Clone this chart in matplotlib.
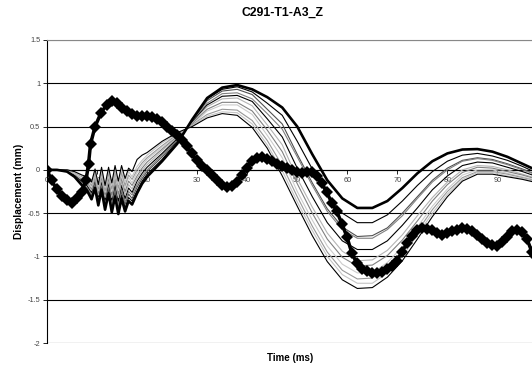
import matplotlib
matplotlib.use("Agg")
import matplotlib.pyplot as plt

plt.rcParams['font.family'] = ['Liberation Sans', 'DejaVu Sans']

# Shared time base (ms) for the thin sensor traces
t_lines = [0, 2, 4, 5.5, 7, 8, 8.9, 9.6, 10.25, 10.9, 11.6, 12.3, 12.95, 13.6, 14.25,
           14.9, 15.6, 16.3, 17, 18, 19, 20, 23, 26, 29, 32, 35, 38, 41, 44, 47, 50,
           53, 56, 59, 62, 65, 68, 71, 74, 77, 80, 83, 86, 89, 92, 95, 98]

# Displacement traces (mm)
trace_a = [0, 0, -.02, -.08, -.18, -.24, -.34, -.21, -.41, -.23, -.46, -.27, -.49, -.31, -.51,
           -.33, -.48, -.36, -.40, -.27, -.16, -.08, .10, .30, .58, .83, .95, .98, .93, .84, .72, .50,
           .18, -.12, -.33, -.44, -.44, -.36, -.21, -.04, .10, .19, .235, .24, .21, .15, .07, -.01]
trace_b = [0, 0, -.02, -.07, -.17, -.22, -.32, -.19, -.39, -.20, -.43, -.24, -.46, -.27, -.47,
           -.29, -.44, -.32, -.36, -.24, -.13, -.05, .12, .33, .57, .82, .93, .96, .90, .77, .63, .33,
           .01, -.29, -.50, -.61, -.61, -.52, -.36, -.18, -.02, .10, .17, .19, .16, .11, .04, -.04]
trace_c = [0, 0, -.02, -.07, -.16, -.21, -.30, -.17, -.36, -.18, -.40, -.21, -.42, -.24, -.43,
           -.25, -.40, -.28, -.33, -.20, -.10, -.02, .15, .34, .56, .80, .91, .93, .87, .70, .53, .18,
           -.15, -.45, -.66, -.77, -.76, -.67, -.50, -.31, -.12, .02, .11, .14, .12, .07, .01, -.06]
trace_d = [0, 0, -.01, -.06, -.14, -.19, -.28, -.14, -.34, -.15, -.38, -.18, -.39, -.20, -.40,
           -.22, -.37, -.25, -.29, -.17, -.07, .00, .17, .35, .56, .77, .88, .89, .82, .65, .47, .15,
           -.18, -.48, -.69, -.79, -.79, -.69, -.53, -.33, -.14, .00, .10, .13, .11, .06, .00, -.06]
trace_e = [0, 0, -.01, -.06, -.13, -.18, -.26, -.12, -.31, -.13, -.35, -.15, -.35, -.17, -.36,
           -.18, -.33, -.21, -.26, -.13, -.04, .03, .19, .36, .55, .75, .85, .86, .79, .59, .38, .02,
           -.31, -.61, -.82, -.92, -.92, -.82, -.64, -.44, -.23, -.07, .05, .09, .08, .03, -.02, -.08]
trace_f = [0, 0, -.01, -.05, -.12, -.16, -.24, -.10, -.29, -.10, -.32, -.12, -.32, -.13, -.32,
           -.14, -.29, -.17, -.22, -.10, -.01, .06, .22, .38, .54, .73, .82, .83, .74, .52, .29, -.10,
           -.43, -.73, -.94, -1.05, -1.04, -.93, -.75, -.53, -.32, -.14, .00, .05, .04, .00, -.05, -.10]
trace_g = [0, 0, -.01, -.04, -.11, -.14, -.22, -.08, -.27, -.07, -.29, -.09, -.29, -.09, -.28,
           -.10, -.25, -.13, -.18, -.07, .02, .09, .24, .39, .53, .70, .78, .78, .68, .46, .21, -.16,
           -.50, -.80, -1.01, -1.11, -1.10, -.99, -.81, -.59, -.36, -.17, -.03, .03, .02, -.02, -.06, -.11]
trace_h = [0, 0, -.01, -.04, -.10, -.13, -.20, -.06, -.24, -.05, -.26, -.06, -.25, -.06, -.24,
           -.06, -.21, -.09, -.15, -.03, .05, .12, .26, .40, .52, .68, .75, .75, .64, .40, .14, -.25,
           -.58, -.88, -1.09, -1.19, -1.19, -1.07, -.89, -.66, -.42, -.22, -.06, .00, .00, -.04, -.08, -.12]
trace_i = [0, 0, .00, -.03, -.08, -.11, -.18, -.03, -.22, -.02, -.24, -.03, -.22, -.02, -.21,
           -.03, -.18, -.06, -.11, .00, .08, .14, .28, .41, .52, .64, .70, .69, .57, .34, .05, -.31,
           -.65, -.95, -1.16, -1.26, -1.25, -1.13, -.95, -.71, -.46, -.25, -.09, -.02, -.02, -.05, -.09, -.13]
trace_j = [0, 0, .00, -.03, -.07, -.10, -.16, -.01, -.19, .00, -.21, .00, -.18, .01, -.17,
           .01, -.14, -.02, -.08, .04, .11, .17, .31, .42, .51, .62, .67, .66, .53, .29, -.01, -.37,
           -.70, -1.00, -1.21, -1.31, -1.31, -1.19, -1.00, -.75, -.50, -.28, -.11, -.03, -.03, -.07, -.10, -.14]
trace_k = [0, 0, .00, -.02, -.06, -.08, -.14, .01, -.17, .03, -.18, .03, -.15, .05, -.13,
           .05, -.10, .02, -.02, .12, .17, .20, .33, .43, .50, .60, .65, .63, .49, .25, -.07, -.42,
           -.76, -1.06, -1.27, -1.37, -1.36, -1.24, -1.05, -.80, -.54, -.31, -.13, -.05, -.05, -.08, -.11, -.15]

# Diamond-marked reference trace
t_ref = [0, 0.9, 1.9, 3.0, 3.9, 4.9, 5.9, 6.9, 7.8, 8.3, 8.7, 9.6, 10.8, 11.9, 12.9, 13.9,
         14.9, 15.9, 16.9, 17.9, 18.9, 19.9, 20.9, 21.9, 22.9, 23.9, 24.9, 25.9, 26.9, 27.9,
         28.9, 29.9, 30.9, 31.9, 32.9, 33.9, 34.9, 35.9, 36.9, 37.9, 38.9, 39.9, 40.9, 41.9,
         42.9, 43.9, 44.9, 45.9, 46.9, 47.9, 48.9, 49.9, 50.9, 51.9, 52.9, 53.9, 54.9, 55.9,
         56.9, 57.9, 58.9, 59.9, 60.9, 61.9, 62.9, 63.9, 64.9, 65.9, 66.9, 67.9, 68.9, 69.9,
         70.9, 71.9, 72.9, 73.9, 74.9, 75.9, 76.9, 77.9, 78.9, 79.9, 80.9, 81.9, 82.9, 83.9,
         84.9, 85.9, 86.9, 87.9, 88.9, 89.9, 90.9, 91.9, 92.9, 93.9, 94.9, 95.9, 96.9, 97.5]
v_ref = [0.0, -0.12, -0.22, -0.30, -0.35, -0.38, -0.33, -0.25, -0.12, 0.07, 0.30, 0.50, 0.66,
         0.75, 0.79, 0.77, 0.72, 0.68, 0.64, 0.62, 0.62, 0.62, 0.61, 0.59, 0.55, 0.50, 0.45,
         0.40, 0.34, 0.27, 0.19, 0.11, 0.05, 0.00, -0.06, -0.12, -0.17, -0.20, -0.19, -0.14,
         -0.06, 0.02, 0.10, 0.14, 0.15, 0.13, 0.10, 0.07, 0.04, 0.02, 0.00, -0.02, -0.04, -0.03,
         -0.03, -0.07, -0.15, -0.26, -0.38, -0.48, -0.62, -0.77, -0.96, -1.08, -1.14, -1.17,
         -1.19, -1.19, -1.18, -1.15, -1.11, -1.05, -0.95, -0.85, -0.76, -0.70, -0.67, -0.68,
         -0.70, -0.73, -0.75, -0.73, -0.71, -0.69, -0.67, -0.68, -0.71, -0.75, -0.80, -0.84,
         -0.87, -0.88, -0.83, -0.77, -0.71, -0.69, -0.72, -0.80, -0.95, -1.0]

traces = [trace_b, trace_c, trace_d, trace_e, trace_f, trace_g, trace_h, trace_i, trace_j, trace_k]
trace_colors = ['black', '#505050', '#808080', 'black', '#b4b4b4', '#808080',
                '#cccccc', '#999999', '#c4c4c4', 'black']

y_ticks = [-2, -1.5, -1, -0.5, 0, 0.5, 1, 1.5]
y_labels = ['-2', '-1.5', '-1', '-0.5', '0', '0.5', '1', '1.5']
x_ticks = [0, 10, 20, 30, 40, 50, 60, 70, 80, 90]

fig = plt.figure(figsize=(5.32, 3.66), dpi=100)
ax = fig.add_axes([47 / 532, 1 - 343 / 366, 485 / 532, 303 / 366])

for vals, col in zip(traces, trace_colors):
    ax.plot(t_lines, vals, color=col, lw=0.8, zorder=3)
ax.plot(t_lines, trace_a, color='black', lw=1.9, zorder=4)
ax.plot(t_ref, v_ref, color='black', lw=2.5, marker='D', ms=6.2, mew=0, zorder=5)

ax.set_xlim(0, 96.9)
ax.set_ylim(-2, 1.5)
ax.set_yticks(y_ticks)
ax.set_yticklabels(y_labels)
ax.set_xticks(x_ticks)

# Horizontal gridlines, x axis crossing at zero like the spreadsheet chart
ax.yaxis.grid(True, color='black', lw=0.8)
ax.get_ygridlines()[-1].set_color('#888888')
ax.set_axisbelow(True)
ax.spines['right'].set_visible(False)
ax.spines['top'].set_color('#888888')
ax.spines['left'].set_linewidth(0.8)
ax.spines['bottom'].set_position(('data', 0))
ax.spines['bottom'].set_linewidth(0.8)
ax.tick_params(axis='both', labelsize=5.3, labelcolor='#444444', length=3, width=0.6,
               direction='out', pad=2)

fig.text(283 / 532, 1 - 13 / 366, 'C291-T1-A3_Z', ha='center', va='center',
         fontsize=8.8, fontweight='bold')
fig.text(19 / 532, 1 - 191 / 366, 'Displacement (mm)', ha='center', va='center',
         rotation=90, fontsize=7.4, fontweight='bold')
fig.text(290 / 532, 1 - 358 / 366, 'Time (ms)', ha='center', va='center',
         fontsize=7, fontweight='bold')

fig.savefig('out.png', dpi=100)
